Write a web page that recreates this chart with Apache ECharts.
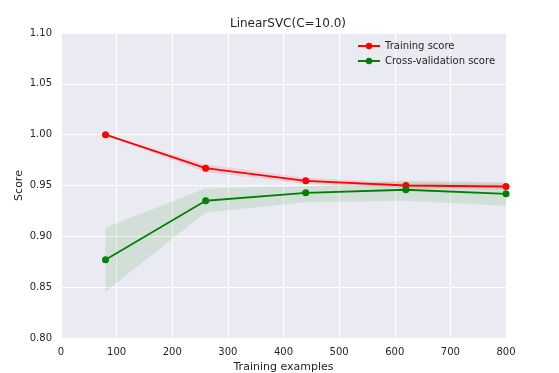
<!DOCTYPE html>
<html>
<head>
<meta charset="utf-8">
<script src="https://cdn.jsdelivr.net/npm/echarts@6/dist/echarts.min.js"></script>
<style>
html,body{margin:0;padding:0;background:#fff;}
#chart{width:559px;height:373px;}
</style>
</head>
<body>
<div id="chart"></div>
<script>
var trainSizes = [80, 260, 440, 620, 800];
var trainMean = [1.000, 0.967, 0.9546, 0.950, 0.949];
var trainLow  = [1.000, 0.963, 0.9516, 0.947, 0.946];
var trainHigh = [1.000, 0.971, 0.9576, 0.953, 0.952];
var cvMean = [0.877, 0.935, 0.9428, 0.9458, 0.9418];
var cvLow  = [0.8457, 0.9234, 0.9335, 0.935, 0.930];
var cvHigh = [0.9085, 0.9474, 0.949, 0.955, 0.9533];
var xTicks = [0, 100, 200, 300, 400, 500, 600, 700, 800];
var yTicks = [0.80, 0.85, 0.90, 0.95, 1.00, 1.05, 1.10];

var FONT = 'DejaVu Sans';
var TXT = '#262626';

function pairs(xs, ys) { return xs.map(function (x, i) { return [x, ys[i]]; }); }
function bandData(xs, lo, hi) { return xs.map(function (x, i) { return [x, lo[i], hi[i]]; }); }

function bandSeries(name, xs, lo, hi, color) {
  return {
    name: name, type: 'custom', silent: true, z: 1,
    data: bandData(xs, lo, hi),
    encode: {x: 0, y: [1, 2]},
    renderItem: function (params, api) {
      if (params.dataIndex !== 0) return null;
      var top = [], bottom = [];
      for (var i = 0; i < xs.length; i++) {
        top.push(api.coord([xs[i], hi[i]]));
        bottom.unshift(api.coord([xs[i], lo[i]]));
      }
      return {
        type: 'polygon',
        shape: {points: top.concat(bottom)},
        style: {fill: color, stroke: null}
      };
    }
  };
}

var chart = echarts.init(document.getElementById('chart'), null, {renderer: 'canvas'});
chart.setOption({
  animation: false,
  backgroundColor: '#ffffff',
  title: {
    text: 'LinearSVC(C=10.0)',
    left: 283, top: 13, textAlign: 'center',
    textStyle: {fontFamily: FONT, fontSize: 12, fontWeight: 'normal', color: TXT}
  },
  legend: {
    data: ['Training score', 'Cross-validation score'],
    orient: 'vertical',
    left: 352, top: 36,
    itemWidth: 22, itemHeight: 8, itemGap: 5,
    textStyle: {fontFamily: FONT, fontSize: 10, color: TXT}
  },
  grid: {left: 61, right: 53, top: 33, bottom: 35, show: true, backgroundColor: '#EAEAF2', borderWidth: 0,
         containLabel: false, outerBoundsMode: 'none'},
  xAxis: {
    type: 'value', min: xTicks[0], max: xTicks[xTicks.length - 1], interval: 100,
    name: 'Training examples', nameLocation: 'middle', nameGap: 24, nameMoveOverlap: false,
    nameTextStyle: {fontFamily: FONT, fontSize: 11, color: TXT},
    axisLine: {show: false}, axisTick: {show: false},
    axisLabel: {fontFamily: FONT, fontSize: 10, color: TXT, margin: 9},
    splitLine: {show: true, lineStyle: {color: '#ffffff', width: 1}}
  },
  yAxis: {
    type: 'value', min: yTicks[0], max: yTicks[yTicks.length - 1], interval: 0.05,
    name: 'Score', nameLocation: 'middle', nameGap: 36, nameRotate: 90, nameMoveOverlap: false,
    nameTextStyle: {fontFamily: FONT, fontSize: 11, color: TXT},
    axisLine: {show: false}, axisTick: {show: false},
    axisLabel: {fontFamily: FONT, fontSize: 10, color: TXT, margin: 9,
      formatter: function (v) { return v.toFixed(2); }},
    splitLine: {show: true, lineStyle: {color: '#ffffff', width: 1}}
  },
  series: [
    bandSeries('trainBand', trainSizes, trainLow, trainHigh, 'rgba(255,0,0,0.1)'),
    bandSeries('cvBand', trainSizes, cvLow, cvHigh, 'rgba(0,128,0,0.1)'),
    {name: 'Training score', type: 'line', data: pairs(trainSizes, trainMean),
     symbol: 'circle', symbolSize: 7, itemStyle: {color: '#ff0000'},
     lineStyle: {color: '#ff0000', width: 1.8}, z: 3},
    {name: 'Cross-validation score', type: 'line', data: pairs(trainSizes, cvMean),
     symbol: 'circle', symbolSize: 7, itemStyle: {color: '#008000'},
     lineStyle: {color: '#008000', width: 1.8}, z: 4}
  ]
});
</script>
</body>
</html>
